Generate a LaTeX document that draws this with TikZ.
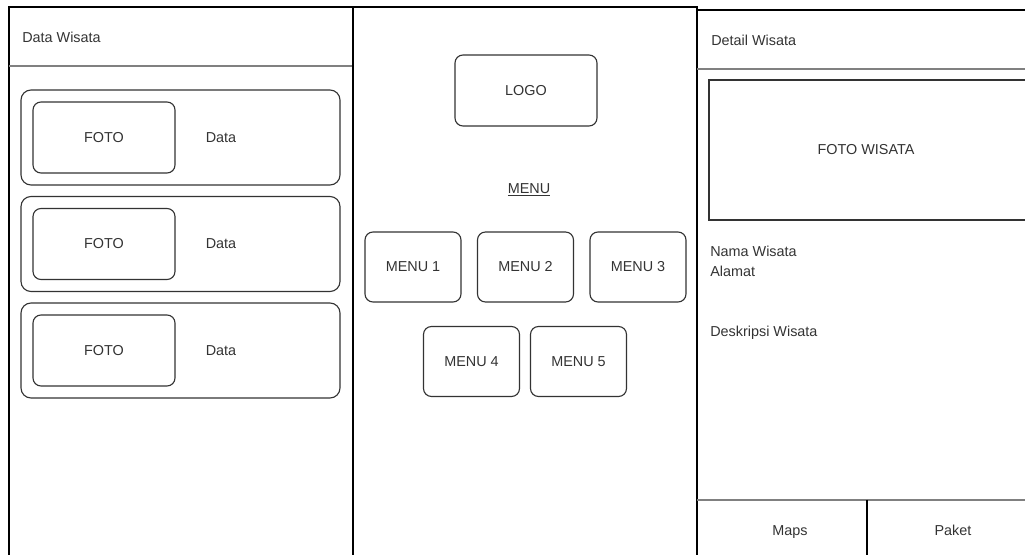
\documentclass[tikz,border=0pt]{standalone}
\usepackage{fontspec}
\setmainfont{Liberation Sans}
\usetikzlibrary{positioning}

\definecolor{inkgray}{HTML}{333333}
\definecolor{linegray}{HTML}{808080}

\begin{document}
\begin{tikzpicture}[x=0.75pt,y=-0.75pt,
    panel/.style={draw=black, line width=0.9pt},
    sepline/.style={draw=linegray, line width=1pt},
    card/.style={draw=inkgray, rounded corners=7.5pt, line width=0.85pt, minimum width=239.25pt, minimum height=71.25pt, inner sep=0pt},
    fotobox/.style={draw=inkgray, rounded corners=6pt, line width=0.85pt, minimum width=106.5pt, minimum height=53.25pt, inner sep=0pt, text=inkgray, font=\fontsize{10.8}{13}\selectfont},
    menubox/.style={draw=inkgray, rounded corners=6pt, line width=0.85pt, minimum width=72pt, minimum height=52.5pt, inner sep=0pt, text=inkgray, font=\fontsize{10.8}{13}\selectfont},
    lbl/.style={text=inkgray, font=\fontsize{10.8}{13}\selectfont, inner sep=0pt}]

    \useasboundingbox (0,0) rectangle (1025,555);
    \clip (0,0) rectangle (1025,555);

    % left screen: data wisata
    \draw[panel] (9,7) rectangle (353,560);
    \draw[sepline] (9,66) -- (353,66);
    \node[lbl, anchor=west] (titleData) at (22,37) {Data Wisata};
    \foreach \i/\yy in {1/137.5, 2/244, 3/350.5} {
        \node[card] (card\i) at (180.5,\yy) {};
        \node[fotobox] (foto\i) at (104,\yy) {FOTO};
        \node[lbl] (data\i) at (221,\yy) {Data};
    }

    % middle screen: menu
    \draw[panel] (353,7) rectangle (697,560);
    \node[fotobox] (logo) at (526,90.5) {LOGO};
    \node[lbl] (menuTitle) at (529,190) {\underline{MENU}};
    \node[menubox] (menu1) at (413,267) {MENU 1};
    \node[menubox] (menu2) at (525.5,267) {MENU 2};
    \node[menubox] (menu3) at (638,267) {MENU 3};
    \node[menubox] (menu4) at (471.5,361.5) {MENU 4};
    \node[menubox] (menu5) at (578.5,361.5) {MENU 5};

    % right screen: detail wisata
    \draw[panel] (697,10) rectangle (1035,560);
    \draw[sepline] (697,69) -- (1035,69);
    \node[lbl, anchor=west] (titleDetail) at (711,40) {Detail Wisata};
    \draw[draw=inkgray, line width=0.85pt] (709,80) rectangle (1035,220);
    \node[lbl] (fotoWisata) at (866,150) {FOTO WISATA};
    \node[lbl, anchor=west] (nama) at (710,251) {Nama Wisata};
    \node[lbl, anchor=west] (alamat) at (710,271) {Alamat};
    \node[lbl, anchor=west] (deskripsi) at (710,333) {Deskripsi Wisata};
    \draw[sepline] (697,500) -- (1035,500);
    \draw[draw=black, line width=0.85pt] (867,500) -- (867,560);
    \node[lbl, anchor=base] (maps) at (790,536) {Maps};
    \node[lbl, anchor=base] (paket) at (953,536) {Paket};
\end{tikzpicture}
\end{document}
